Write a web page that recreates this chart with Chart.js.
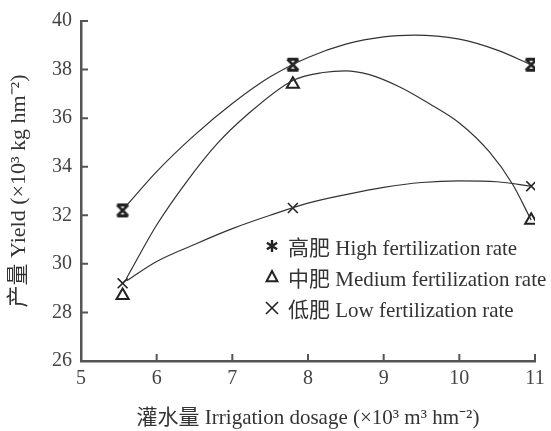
<!DOCTYPE html>
<html lang="zh">
<head>
  <meta charset="UTF-8">
  <title>产量 Yield vs Irrigation dosage</title>
  <script src="https://cdn.jsdelivr.net/npm/chart.js"></script>
  <style>
    body { margin: 0; background: #fff; }
    #wrap { position: relative; width: 551px; height: 431px; }
    #legend { position: absolute; left: 264px; top: 230px; font-family: 'Liberation Serif', 'Noto Sans CJK SC', serif; font-size: 21px; color: #333; }
    #legend .item { height: 31px; display: flex; align-items: center; white-space: nowrap; }
    #legend canvas { margin-right: 8px; }
  </style>
</head>
<body>
<div id="wrap">
  <canvas id="chart" width="551" height="431"></canvas>
  <div id="legend"></div>
</div>

<script>
  // measured points
  const xValues = [5.55, 7.8, 10.95];
  const highYield = [32.2, 38.2, 38.2];
  const mediumYield = [28.7, 37.4, 31.8];
  const lowYield = [29.2, 32.3, 33.2];

  // fitted curves
  const highCurveX = [5.6, 6.0, 6.5, 7.0, 7.5, 8.0, 8.5, 9.0, 9.4, 10.0, 10.5, 10.95];
  const highCurveY = [32.4, 33.8, 35.3, 36.6, 37.7, 38.5, 39.05, 39.35, 39.42, 39.25, 38.8, 38.2];
  const mediumCurveX = [5.6, 6.0, 6.4, 6.8, 7.2, 7.8, 8.2, 8.5, 8.8, 9.2, 9.6, 10.0, 10.4, 10.7, 10.95];
  const mediumCurveY = [29.4, 31.6, 33.4, 34.95, 36.15, 37.55, 37.88, 37.95, 37.8, 37.3, 36.6, 35.8, 34.6, 33.3, 31.8];
  const lowCurveX = [5.6, 6.0, 6.5, 7.0, 7.5, 8.0, 8.5, 9.0, 9.5, 10.0, 10.5, 10.95];
  const lowCurveY = [29.3, 30.1, 30.8, 31.45, 32.0, 32.5, 32.85, 33.15, 33.35, 33.42, 33.38, 33.2];

  const seriesLabels = ['高肥 High fertilization rate', '中肥 Medium fertilization rate', '低肥 Low fertilization rate'];
  const xTitle = '灌水量 Irrigation dosage (×10³ m³ hm⁻²)';
  const yTitle = '产量 Yield (×10³ kg hm⁻²)';

  const FONT = "'Liberation Serif', 'Noto Sans CJK SC', serif";
  const INK = '#222';

  const toPoints = (xs, ys) => xs.map((x, i) => ({ x: x, y: ys[i] }));

  // marker drawing helpers
  function drawHourglass(ctx, cx, cy, r) {
    ctx.beginPath();
    ctx.moveTo(cx - r, cy - r); ctx.lineTo(cx + r, cy + r);
    ctx.moveTo(cx + r, cy - r); ctx.lineTo(cx - r, cy + r);
    ctx.moveTo(cx - r, cy - r); ctx.lineTo(cx + r, cy - r);
    ctx.moveTo(cx - r, cy + r); ctx.lineTo(cx + r, cy + r);
    ctx.stroke();
  }
  function drawAsterisk(ctx, cx, cy, r) {
    ctx.beginPath();
    ctx.moveTo(cx - r * 0.85, cy - r * 0.55); ctx.lineTo(cx + r * 0.85, cy + r * 0.55);
    ctx.moveTo(cx + r * 0.85, cy - r * 0.55); ctx.lineTo(cx - r * 0.85, cy + r * 0.55);
    ctx.moveTo(cx, cy - r); ctx.lineTo(cx, cy + r);
    ctx.stroke();
  }
  function drawTriangle(ctx, cx, cy, r) {
    ctx.beginPath();
    ctx.moveTo(cx, cy - r);
    ctx.lineTo(cx + r * 0.9, cy + r * 0.7);
    ctx.lineTo(cx - r * 0.9, cy + r * 0.7);
    ctx.closePath();
    ctx.stroke();
  }
  function drawCross(ctx, cx, cy, r) {
    ctx.beginPath();
    ctx.moveTo(cx - r, cy - r); ctx.lineTo(cx + r, cy + r);
    ctx.moveTo(cx + r, cy - r); ctx.lineTo(cx - r, cy + r);
    ctx.stroke();
  }

  function markerCanvas(drawFn, size, r, lw) {
    const c = document.createElement('canvas');
    c.width = size; c.height = size;
    const ctx = c.getContext('2d');
    ctx.strokeStyle = INK;
    ctx.lineWidth = lw;
    drawFn(ctx, size / 2, size / 2, r);
    return c;
  }

  const highMarker = markerCanvas(drawHourglass, 16, 5.5, 2.8);

  // inward tick marks on both axes
  const innerTicks = {
    id: 'innerTicks',
    afterDraw(chart) {
      const ctx = chart.ctx;
      const xs = chart.scales.x, ys = chart.scales.y;
      const area = chart.chartArea;
      ctx.save();
      ctx.strokeStyle = '#555';
      ctx.lineWidth = 2;
      ctx.beginPath();
      xs.ticks.forEach(t => {
        if (t.value === xs.min) return;
        const px = xs.getPixelForValue(t.value);
        ctx.moveTo(px, area.bottom);
        ctx.lineTo(px, area.bottom - 7);
      });
      ys.ticks.forEach(t => {
        if (t.value === ys.min) return;
        const py = ys.getPixelForValue(t.value);
        ctx.moveTo(area.left, py);
        ctx.lineTo(area.left + 7, py);
      });
      ctx.stroke();
      ctx.restore();
    }
  };

  const curveStyle = { showLine: true, pointRadius: 0, borderColor: '#333', borderWidth: 1.2, cubicInterpolationMode: 'monotone', fill: false };

  new Chart(document.getElementById('chart'), {
    type: 'scatter',
    data: {
      datasets: [
        Object.assign({ data: toPoints(highCurveX, highCurveY) }, curveStyle),
        Object.assign({ data: toPoints(mediumCurveX, mediumCurveY) }, curveStyle),
        Object.assign({ data: toPoints(lowCurveX, lowCurveY) }, curveStyle),
        {
          label: seriesLabels[0],
          data: toPoints(xValues, highYield),
          pointStyle: highMarker,
          pointRadius: 7
        },
        {
          label: seriesLabels[1],
          data: toPoints(xValues, mediumYield),
          pointStyle: 'triangle',
          pointRadius: 7,
          backgroundColor: '#fff',
          borderColor: INK,
          borderWidth: 2
        },
        {
          label: seriesLabels[2],
          data: toPoints(xValues, lowYield),
          pointStyle: 'crossRot',
          pointRadius: 7,
          borderColor: INK,
          borderWidth: 1.6
        }
      ]
    },
    options: {
      responsive: false,
      animation: false,
      layout: { padding: { top: 16, right: 16, left: 0, bottom: 0 } },
      plugins: { legend: { display: false }, tooltip: { enabled: false } },
      scales: {
        x: {
          type: 'linear', min: 5, max: 11,
          ticks: { stepSize: 1, padding: 6, color: '#444', font: { family: FONT, size: 20 } },
          grid: { display: true, drawOnChartArea: false, drawTicks: false },
          border: { color: '#555', width: 2.5 },
          title: { display: true, text: xTitle, color: '#333', font: { family: FONT, size: 21 }, padding: { top: 0, bottom: 0 } },
          afterFit(scale) { scale.height = 70; }
        },
        y: {
          min: 26, max: 40,
          ticks: { stepSize: 2, padding: 9, color: '#444', font: { family: FONT, size: 20 } },
          grid: { display: true, drawOnChartArea: false, drawTicks: false },
          border: { color: '#555', width: 2.5 },
          title: { display: true, text: yTitle, color: '#333', font: { family: FONT, size: 22 }, padding: { top: 6, bottom: 0 } },
          afterFit(scale) { scale.width = 81; }
        }
      }
    },
    plugins: [innerTicks]
  });

  // legend inside the plot
  const legendMarkers = [
    markerCanvas(drawAsterisk, 16, 6, 2.4),
    markerCanvas(drawTriangle, 16, 6, 2),
    markerCanvas(drawCross, 16, 6, 1.6)
  ];
  const legendEl = document.getElementById('legend');
  seriesLabels.forEach((label, i) => {
    const row = document.createElement('div');
    row.className = 'item';
    row.appendChild(legendMarkers[i]);
    const span = document.createElement('span');
    span.textContent = label;
    row.appendChild(span);
    legendEl.appendChild(row);
  });
</script>
</body>
</html>
